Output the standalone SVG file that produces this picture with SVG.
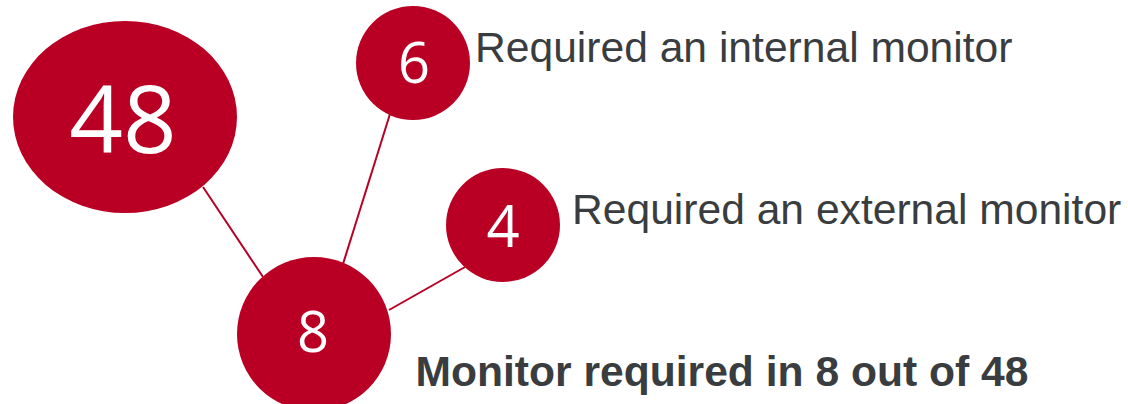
<svg xmlns="http://www.w3.org/2000/svg" width="1128" height="404" viewBox="0 0 1128 404">
<style>
.node{fill:#B90024}
.num{fill:#fff;font-family:"Open Sans","Noto Sans",sans-serif;text-anchor:middle}
.lbl{fill:#3A3D40;font-family:"Liberation Sans",Arial,sans-serif;font-size:42.6px}
.conn line{stroke:#B90024;stroke-width:2}
</style>
<rect width="1128" height="404" fill="#fff"/>
<g id="connectors" class="conn">
<line x1="203" y1="187" x2="263" y2="277"/>
<line x1="390" y1="114" x2="343" y2="264"/>
<line x1="465" y1="267" x2="389" y2="310"/>
</g>
<g id="node48">
<ellipse class="node" cx="125" cy="117" rx="112" ry="96"/>
<text class="num" x="123" y="153" font-size="94">48</text>
</g>
<g id="node6">
<circle class="node" cx="413" cy="63" r="57"/>
<text class="num" x="414" y="83" font-size="56">6</text>
</g>
<g id="node4">
<circle class="node" cx="503" cy="225" r="57"/>
<text class="num" x="503" y="247" font-size="58">4</text>
</g>
<g id="node8">
<circle class="node" cx="314" cy="334" r="77"/>
<text class="num" x="313" y="352" font-size="56">8</text>
</g>
<text class="lbl" x="475" y="62">Required an internal monitor</text>
<text class="lbl" x="572" y="223.5">Required an external monitor</text>
<text class="lbl" x="415.5" y="386" font-weight="bold">Monitor required in 8 out of 48</text>
</svg>
